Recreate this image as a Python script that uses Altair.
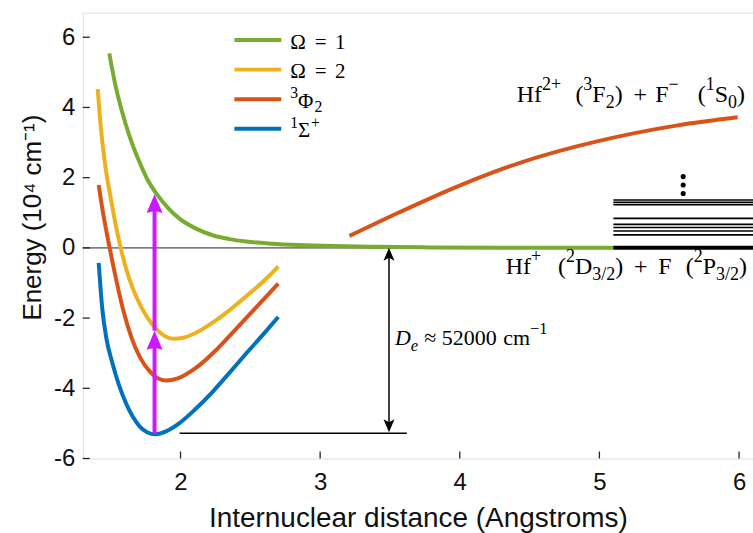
import altair as alt
import pandas as pd

# Potential energy curves: r in Angstroms, E in 10^4 cm^-1
omega1_r = [1.49, 1.53, 1.58, 1.64, 1.70, 1.76, 1.83, 1.91, 1.99, 2.10, 2.23, 2.35, 2.47, 2.65, 2.85, 3.10, 3.40, 3.80, 4.30, 5.10]
omega1_E = [5.54, 4.70, 3.90, 3.12, 2.50, 1.97, 1.53, 1.14, 0.84, 0.57, 0.36, 0.25, 0.18, 0.12, 0.08, 0.05, 0.03, 0.012, 0.004, 0.0]

omega2_r = [1.407, 1.43, 1.457, 1.51, 1.56, 1.62, 1.69, 1.76, 1.83, 1.89, 1.95, 2.02, 2.10, 2.23, 2.35, 2.47, 2.60, 2.70]
omega2_E = [4.52, 3.40, 2.47, 1.20, 0.20, -0.72, -1.45, -1.97, -2.33, -2.52, -2.59, -2.56, -2.44, -2.13, -1.78, -1.38, -0.93, -0.53]

phi_r = [1.414, 1.445, 1.49, 1.54, 1.59, 1.65, 1.71, 1.78, 1.84, 1.90, 1.98, 2.11, 2.25, 2.40, 2.55, 2.70]
phi_E = [1.79, 1.00, 0.05, -0.92, -1.78, -2.57, -3.12, -3.52, -3.72, -3.78, -3.72, -3.42, -2.93, -2.30, -1.66, -1.02]

# ionic branch of the 3Phi2 state
phi_ion_r = [3.21, 3.56, 3.99, 4.42, 4.99, 5.56, 5.99]
phi_ion_E = [0.34, 1.00, 1.76, 2.41, 3.04, 3.49, 3.72]

sigma_r = [1.414, 1.44, 1.47, 1.51, 1.56, 1.61, 1.66, 1.71, 1.76, 1.82, 1.90, 1.99, 2.10, 2.23, 2.35, 2.47, 2.60, 2.70]
sigma_E = [-0.43, -1.75, -2.60, -3.25, -3.92, -4.43, -4.82, -5.10, -5.25, -5.31, -5.22, -5.00, -4.62, -4.10, -3.56, -3.01, -2.43, -1.97]

states = ["Ω = 1", "Ω = 2", "³Φ₂", "¹Σ⁺"]
colors = ["#77AC30", "#EDB120", "#D95319", "#0072BD"]

# Atomic asymptote levels above Hf+ + F
level_E = [1.364, 1.30, 1.23, 0.84, 0.67, 0.58, 0.48, 0.37]
level_r = [5.10, 6.10]
dots_E = [2.03, 1.79, 1.55]
dots_r = 5.60

# Transition arrows (magenta) and dissociation energy marker
arrow_r = 1.814
arrow_E = [-5.30, -2.36, 1.53]
de_r = 3.493
de_E = [0.0, -5.25]
floor_r = [1.993, 3.621]
floor_E = -5.28

x_ticks = [2, 3, 4, 5, 6]
y_ticks = [-6, -4, -2, 0, 2, 4, 6]
x_domain = [1.3, 6.1]
y_domain = [-6, 6.7]

W, H = 672, 447
SANS = "Liberation Sans"
SERIF = "Liberation Serif"
INK = "#262626"
MAGENTA = "#CC19FF"

xscale = alt.Scale(domain=x_domain, nice=False, zero=False)
yscale = alt.Scale(domain=y_domain, nice=False, zero=False)
xaxis = alt.Axis(values=x_ticks, title="Internuclear distance (Angstroms)", grid=False,
                 ticks=False, domain=False, labelFont=SANS, labelFontSize=24,
                 labelColor="#111", labelPadding=12, titleFont=SANS, titleFontSize=28,
                 titleFontWeight="normal", titleColor="#111", titleY=60,
                 titleBaseline="middle")
yaxis = alt.Axis(values=y_ticks, title="Energy (10⁴ cm⁻¹)", grid=False, ticks=False,
                 domain=False, labelFont=SANS, labelFontSize=24, labelColor="#111",
                 labelPadding=8, labelExpr="'' + datum.value", titleFont=SANS,
                 titleFontSize=26, titleFontWeight="normal", titleColor="#111",
                 titleX=-50, titleY=205, titleBaseline="middle", titleAlign="center")


def X(field):
    return alt.X(field, type="quantitative", scale=xscale, axis=xaxis)


def Y(field):
    return alt.Y(field, type="quantitative", scale=yscale, axis=yaxis)


def px_of(r):
    return (r - x_domain[0]) / (x_domain[1] - x_domain[0]) * W


def py_of(e):
    return (y_domain[1] - e) / (y_domain[1] - y_domain[0]) * H


# Advance widths (em) of Liberation Serif, used to set rich-text labels run by run
ADV = {"H": .722, "f": .333, "F": .556, "S": .556, "D": .722, "P": .556, "(": .333,
       ")": .333, "+": .564, "−": .564, "/": .278, " ": .25, "c": .444, "m": .778,
       "≈": .549, "e": .444, "=": .564, "Ω": .768, "Φ": .78, "Σ": .62}
for d in "0123456789":
    ADV[d] = .5


def set_runs(runs, anchor_px, base_py, size, align="left", raise_=0.5, lower=0.25):
    """Lay out (text, role) runs: role is n, sup, sub, it (italic), subit or gap."""
    small = size * 0.75
    items, x = [], 0.0
    for text, role in runs:
        if role == "gap":
            x += float(text) * size
            continue
        fs = small if role in ("sup", "sub", "subit") else size
        if role == "sup":
            dy = -raise_ * size
        elif role in ("sub", "subit"):
            dy = lower * size
        else:
            dy = 0.0
        items.append({"t": text, "px": x, "py": base_py + dy, "fs": fs,
                      "it": role in ("it", "subit")})
        x += sum(ADV.get(ch, .5) for ch in text) * fs
    shift = anchor_px - (x if align == "right" else 0.0)
    for it in items:
        it["px"] += shift
    return items


rows = []
for name, seg, rs, es in [(states[0], "a", omega1_r, omega1_E),
                          (states[1], "b", omega2_r, omega2_E),
                          (states[2], "c", phi_r, phi_E),
                          (states[2], "d", phi_ion_r, phi_ion_E),
                          (states[3], "e", sigma_r, sigma_E)]:
    for r, e in zip(rs, es):
        rows.append({"r": r, "E": e, "state": name, "seg": seg})
curves_df = pd.DataFrame(rows)

zero_line = alt.Chart(pd.DataFrame({"r": [x_domain[0]], "r2": [x_domain[1]], "E": [0.0]})).mark_rule(
    color="#808080", strokeWidth=1.6).encode(x=X("r"), x2="r2", y=Y("E"))

curves = alt.Chart(curves_df).mark_line(strokeWidth=4, interpolate="monotone").encode(
    x=X("r"), y=Y("E"),
    color=alt.Color("state:N", scale=alt.Scale(domain=states, range=colors), legend=None),
    detail="seg:N", order="r:Q")

levels = alt.Chart(pd.DataFrame({"r": level_r[0], "r2": level_r[1], "E": level_E})).mark_rule(
    color="black", strokeWidth=1.7).encode(x=X("r"), x2="r2", y=Y("E"))
ground_level = alt.Chart(pd.DataFrame({"r": [level_r[0]], "r2": [level_r[1]], "E": [0.0]})).mark_rule(
    color="black", strokeWidth=4).encode(x=X("r"), x2="r2", y=Y("E"))
dots = alt.Chart(pd.DataFrame({"r": dots_r, "E": dots_E})).mark_point(
    shape="circle", filled=True, size=26, color="black", opacity=1).encode(x=X("r"), y=Y("E"))

floor = alt.Chart(pd.DataFrame({"r": [floor_r[0]], "r2": [floor_r[1]], "E": [floor_E]})).mark_rule(
    color="black", strokeWidth=1.4).encode(x=X("r"), x2="r2", y=Y("E"))

de_df = pd.DataFrame({"r": [de_r], "E": [de_E[0] - 0.2], "E2": [de_E[1] + 0.2]})
de_shaft = alt.Chart(de_df).mark_rule(color="black", strokeWidth=1.5).encode(
    x=X("r"), y=Y("E"), y2="E2")
head_up_small = "M0,0L0.55,1.3L0,1.0L-0.55,1.3Z"
head_dn_small = "M0,0L0.55,-1.3L0,-1.0L-0.55,-1.3Z"
de_top = alt.Chart(pd.DataFrame({"r": [de_r], "E": [de_E[0]]})).mark_point(
    shape=head_up_small, size=400, filled=True, color="black", opacity=1, strokeWidth=0).encode(
    x=X("r"), y=Y("E"))
de_bot = alt.Chart(pd.DataFrame({"r": [de_r], "E": [de_E[1]]})).mark_point(
    shape=head_dn_small, size=400, filled=True, color="black", opacity=1, strokeWidth=0).encode(
    x=X("r"), y=Y("E"))

ex_df = pd.DataFrame({"r": [arrow_r, arrow_r], "E": arrow_E[:2],
                      "E2": [arrow_E[1] - 0.35, arrow_E[2] - 0.35]})
ex_shaft = alt.Chart(ex_df).mark_rule(color=MAGENTA, strokeWidth=4).encode(
    x=X("r"), y=Y("E"), y2="E2")
head_up_big = "M0,0L0.8,1.9L0,1.7L-0.8,1.9Z"
ex_heads = alt.Chart(pd.DataFrame({"r": [arrow_r, arrow_r], "E": arrow_E[1:]})).mark_point(
    shape=head_up_big, size=400, filled=True, color=MAGENTA, opacity=1, strokeWidth=0).encode(
    x=X("r"), y=Y("E"))

# Inward tick marks on both axes
yticks = alt.Chart(pd.DataFrame({"E": y_ticks})).mark_rule(color=INK, strokeWidth=1.3).encode(
    x=alt.value(0), x2=alt.value(7), y=Y("E"))
xticks = alt.Chart(pd.DataFrame({"r": x_ticks})).mark_rule(color=INK, strokeWidth=1.3).encode(
    y=alt.value(H), y2=alt.value(H - 7), x=X("r"))

# Rich-text annotations (serif, with raised and lowered runs)
ion_runs = [("Hf", "n"), ("2+", "sup"), (".6", "gap"), ("(", "n"), ("3", "sup"), ("F", "n"),
            ("2", "sub"), (")", "n"), (".45", "gap"), ("+", "n"), (".35", "gap"), ("F", "n"),
            ("−", "sup"), (".8", "gap"), ("(", "n"), ("1", "sup"), ("S", "n"), ("0", "sub"),
            (")", "n")]
atom_runs = [("Hf", "n"), ("+", "sup"), (".7", "gap"), ("(", "n"), ("2", "sup"), ("D", "n"),
             ("3/2", "sub"), (")", "n"), (".45", "gap"), ("+", "n"), (".45", "gap"), ("F", "n"),
             (".6", "gap"), ("(", "n"), ("2", "sup"), ("P", "n"), ("3/2", "sub"), (")", "n")]
de_runs = [("D", "it"), ("e", "subit"), (".28", "gap"), ("≈", "n"), (".25", "gap"),
           ("52000", "n"), (".3", "gap"), ("cm", "n"), ("−1", "sup")]
legend_runs = [
    [("Ω", "n"), (".4", "gap"), ("=", "n"), (".4", "gap"), ("1", "n")],
    [("Ω", "n"), (".4", "gap"), ("=", "n"), (".4", "gap"), ("2", "n")],
    [("3", "sup"), ("Φ", "n"), ("2", "sub")],
    [("1", "sup"), ("Σ", "n"), ("+", "sup")],
]

text_items = []
text_items += set_runs(ion_runs, px_of(6.043), py_of(4.16), 24, align="right")
text_items += set_runs(atom_runs, px_of(6.057), py_of(-0.75), 24, align="right")
text_items += set_runs(de_runs, px_of(3.536), py_of(-2.78), 22)
for i, runs in enumerate(legend_runs):
    text_items += set_runs(runs, 208, 36.3 + 29.6 * i, 21, raise_=0.45, lower=0.2)
text_df = pd.DataFrame(text_items)

tx = alt.X("px:Q", scale=None, axis=None)
ty = alt.Y("py:Q", scale=None, axis=None)
tsize = alt.Size("fs:Q", scale=None, legend=None)
rich_text = alt.Chart(text_df).transform_filter("!datum.it").mark_text(
    font=SERIF, align="left", baseline="alphabetic", color="black").encode(
    x=tx, y=ty, size=tsize, text="t:N")
rich_text_it = alt.Chart(text_df).transform_filter("datum.it").mark_text(
    font=SERIF, fontStyle="italic", align="left", baseline="alphabetic", color="black").encode(
    x=tx, y=ty, size=tsize, text="t:N")

# Legend line samples
legend_df = pd.DataFrame({"state": states, "i": list(range(len(states)))})
leg_lines = alt.Chart(legend_df).transform_calculate(py="27.5 + 29.6 * datum.i").mark_rule(
    strokeWidth=4).encode(
    x=alt.value(152), x2=alt.value(199), y=alt.Y("py:Q", scale=None, axis=None),
    color=alt.Color("state:N", scale=alt.Scale(domain=states, range=colors), legend=None))

chart = alt.layer(
    zero_line, curves, levels, ground_level, dots, floor, de_shaft, de_top, de_bot,
    ex_shaft, ex_heads, yticks, xticks, rich_text, rich_text_it, leg_lines
).properties(
    width=W, height=H, autosize="none",
    padding={"left": 83, "top": 12, "right": 0, "bottom": 74}
).configure_view(stroke=INK, strokeWidth=1.5).configure(background="white")

chart.save("out.html", embed_options={"renderer": "svg", "actions": False})
